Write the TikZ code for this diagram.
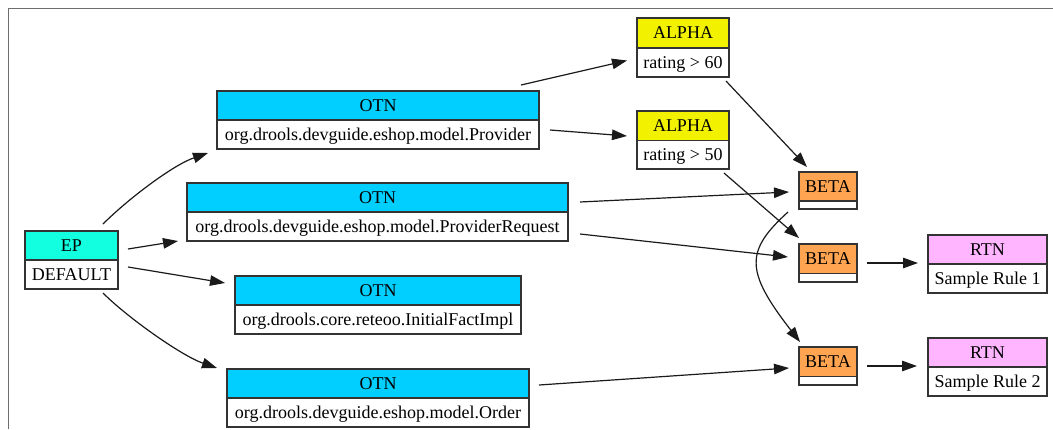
\documentclass[tikz,border=0pt]{standalone}
\usepackage{fontspec}
\setmainfont{Liberation Serif}
\newfontfamily\boxfont{Liberation Serif}
\usetikzlibrary{arrows.meta}
\definecolor{epc}{HTML}{12FFE0}
\definecolor{otnc}{HTML}{00CFFF}
\definecolor{alphac}{HTML}{F2F200}
\definecolor{betac}{HTML}{FFA552}
\definecolor{rtnc}{HTML}{FFB5FF}
\definecolor{bordc}{HTML}{333333}
\definecolor{edgec}{HTML}{1A1A1A}
\definecolor{framec}{HTML}{6E6E6E}
\tikzset{
  gbox/.style={draw=bordc, line width=1.3pt, fill=white, inner sep=0pt, outer sep=0pt, rectangle},
  lbl/.style={inner sep=0pt, anchor=base, font=\boxfont\fontsize{18}{20}\selectfont, text=black},
  edge/.style={draw=edgec, line width=1.2pt, -{Triangle[length=15pt,width=10.5pt]}},
}
\newcommand\gbox[8]{%
  \node[gbox, minimum width=#3pt, minimum height=#4pt,
    path picture={
      \fill[#6] (path picture bounding box.north west) rectangle ([yshift=-#5pt]path picture bounding box.north east);
      \draw[bordc, line width=1.3pt] ([yshift=-#5pt]path picture bounding box.north west) -- ([yshift=-#5pt]path picture bounding box.north east);
    }] (#1) at (#2) {};
  \node[lbl] (#1-t) at ([yshift={-(#5/2+5.5)*1pt}]#1.north) {#7};
  \if\relax\detokenize{#8}\relax\else
  \node[lbl] (#1-b) at ([yshift={-(#5+(#4-#5)/2+5.5)*1pt}]#1.north) {#8};
  \fi
}
\begin{document}
\begin{tikzpicture}[x=1pt, y=-1pt]
\useasboundingbox (0,0) rectangle (1053,429);
\draw[framec, line width=1pt] (8,429) -- (8,8.5) -- (1053,8.5);

\gbox{ep}{71.5,260}{93}{58}{29}{epc}{EP}{DEFAULT}
\gbox{o1}{378,120}{322}{58}{29}{otnc}{OTN}{org.drools.devguide.eshop.model.Provider}
\gbox{o2}{377.5,212}{381}{58}{29}{otnc}{OTN}{org.drools.devguide.eshop.model.ProviderRequest}
\gbox{o3}{378,305}{286}{58}{29}{otnc}{OTN}{org.drools.core.reteoo.InitialFactImpl}
\gbox{o4}{378,398}{302}{58}{29}{otnc}{OTN}{org.drools.devguide.eshop.model.Order}
\gbox{a1}{683,47.5}{92}{59}{30}{alphac}{ALPHA}{rating > 60}
\gbox{a2}{683,140}{92}{58}{29.5}{alphac}{ALPHA}{rating > 50}
\gbox{b1}{828,190.5}{58}{37}{29}{betac}{BETA}{}
\gbox{b2}{828,263}{58}{38}{29.5}{betac}{BETA}{}
\gbox{b3}{828,366}{58}{38}{29.5}{betac}{BETA}{}
\gbox{r1}{987.5,264}{119}{58}{29}{rtnc}{RTN}{Sample Rule 1}
\gbox{r2}{987.5,367}{119}{58}{29}{rtnc}{RTN}{Sample Rule 2}

\draw[edge] ([shift={(31.5,-36)}]ep.center) .. controls +(25,-25) and +(-35,12) .. ([shift={(-170,33)}]o1.center);
\draw[edge] ([shift={(56.5,-11)}]ep.center) -- ([shift={(-199.5,29)}]o2.center);
\draw[edge] ([shift={(56.5,7)}]ep.center) -- ([shift={(-153,-22)}]o3.center);
\draw[edge] ([shift={(31.5,33)}]ep.center) .. controls +(25,25) and +(-35,-12) .. ([shift={(-161,-30)}]o4.center);
\draw[edge] ([shift={(143,-35)}]o1.center) -- ([shift={(-56,13)}]a1.center);
\draw[edge] ([shift={(172,10)}]o1.center) -- ([shift={(-56,-4)}]a2.center);
\draw[edge] ([shift={(202.5,-10)}]o2.center) -- ([shift={(-39,1.5)}]b1.center);
\draw[edge] ([shift={(202.5,22)}]o2.center) -- ([shift={(-40,-6)}]b2.center);
\draw[edge] ([shift={(43,33.5)}]a1.center) -- ([shift={(-21,-23.5)}]b1.center);
\draw[edge] ([shift={(41,33)}]a2.center) -- ([shift={(-29,-25)}]b2.center);
\draw[edge] ([shift={(-40,21.5)}]b1.center) .. controls +(-43,39) and +(-55,-71) .. ([shift={(-28,-24)}]b3.center);
\draw[edge] ([shift={(161,-13)}]o4.center) -- ([shift={(-39,2)}]b3.center);
\draw[edge] ([shift={(39,0)}]b2.center) -- ([shift={(-69.5,-1)}]r1.center);
\draw[edge] ([shift={(39,0)}]b3.center) -- ([shift={(-70.5,-1)}]r2.center);
\end{tikzpicture}
\end{document}
